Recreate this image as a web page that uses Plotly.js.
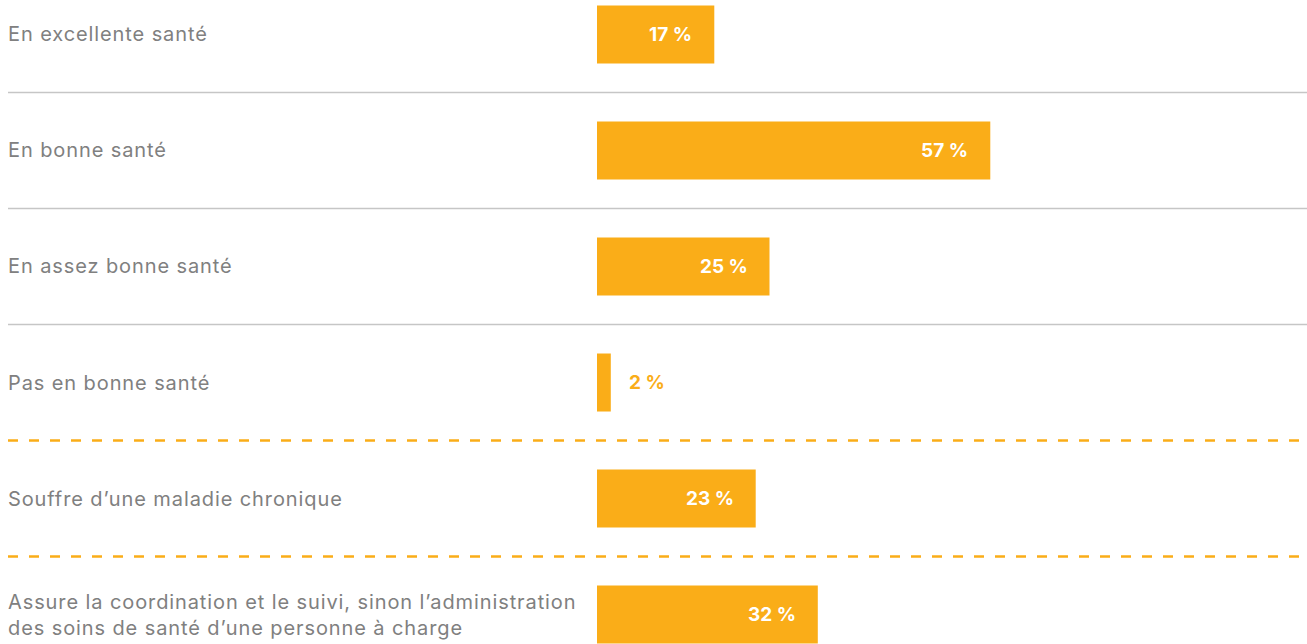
<!DOCTYPE html>
<html>
<head>
<meta charset="utf-8">
<script src="https://cdn.plot.ly/plotly-3.0.1.min.js"></script>
<style>
  html, body { margin: 0; padding: 0; background: #fff; }
  #chart { width: 1307px; height: 644px; }
</style>
</head>
<body>
<div id="chart"></div>
<script>
const categories = [
  "En excellente santé",
  "En bonne santé",
  "En assez bonne santé",
  "Pas en bonne santé",
  "Souffre d’une maladie chronique",
  "Assure la coordination et le suivi, sinon l’administration<br>des soins de santé d’une personne à charge"
];
const values = [17, 57, 25, 2, 23, 32];
const valueLabels = ["17 %", "57 %", "25 %", "2 %", "23 %", "32 %"];

const ORANGE = "#FAAD18";
const GRAY_TEXT = "#808080";
const FONT = "Inter, 'Noto Sans', sans-serif";

const W = 1307, H = 644;
const left = 597;
const plotW = W - left;
const labelX = (8 - left) / plotW;

const idx = categories.map((_, i) => i);

const trace = {
  type: "bar",
  orientation: "h",
  x: values,
  y: idx,
  width: 0.5,
  marker: { color: ORANGE },
  hoverinfo: "skip"
};

const annotations = [];
categories.forEach((c, i) => {
  annotations.push({
    xref: "paper", yref: "y", x: labelX, y: i,
    xanchor: "left", yanchor: "middle", align: "left",
    xshift: -2,
    text: c, showarrow: false,
    font: { family: FONT, size: 20, color: GRAY_TEXT }
  });
});
values.forEach((v, i) => {
  const inside = v >= 5;
  annotations.push({
    xref: "x", yref: "y", x: v, y: i,
    xanchor: inside ? "right" : "left", yanchor: "middle",
    xshift: inside ? -20 : 16,
    text: "<b>" + valueLabels[i] + "</b>", showarrow: false,
    font: { family: FONT, size: 19, color: inside ? "#ffffff" : ORANGE }
  });
});

const shapes = [];
for (let i = 0; i < categories.length - 1; i++) {
  const dashed = i >= 3;
  shapes.push({
    type: "line", xref: "paper", yref: "y",
    x0: labelX, x1: 1, y0: i + 0.5, y1: i + 0.5,
    line: dashed
      ? { color: ORANGE, width: 2.5, dash: "10px,11px" }
      : { color: "#c6c6c6", width: 1.5 }
  });
}

const layout = {
  width: W, height: H,
  margin: { l: left, r: 0, t: 0, b: 0, pad: 0 },
  paper_bgcolor: "#ffffff", plot_bgcolor: "#ffffff",
  showlegend: false,
  xaxis: { range: [0, 102.9], visible: false, fixedrange: true },
  yaxis: { range: [5.254, -0.297], visible: false, fixedrange: true },
  annotations: annotations,
  shapes: shapes
};

Plotly.newPlot("chart", [trace], layout, { displayModeBar: false, staticPlot: true }).then(() => {
  document.querySelectorAll("g.annotation").forEach(g => {
    const k = parseInt(g.getAttribute("data-index"), 10);
    if (k < categories.length) {
      g.querySelectorAll("text").forEach(t => { t.style.letterSpacing = "0.9px"; });
    }
  });
});
</script>
</body>
</html>
